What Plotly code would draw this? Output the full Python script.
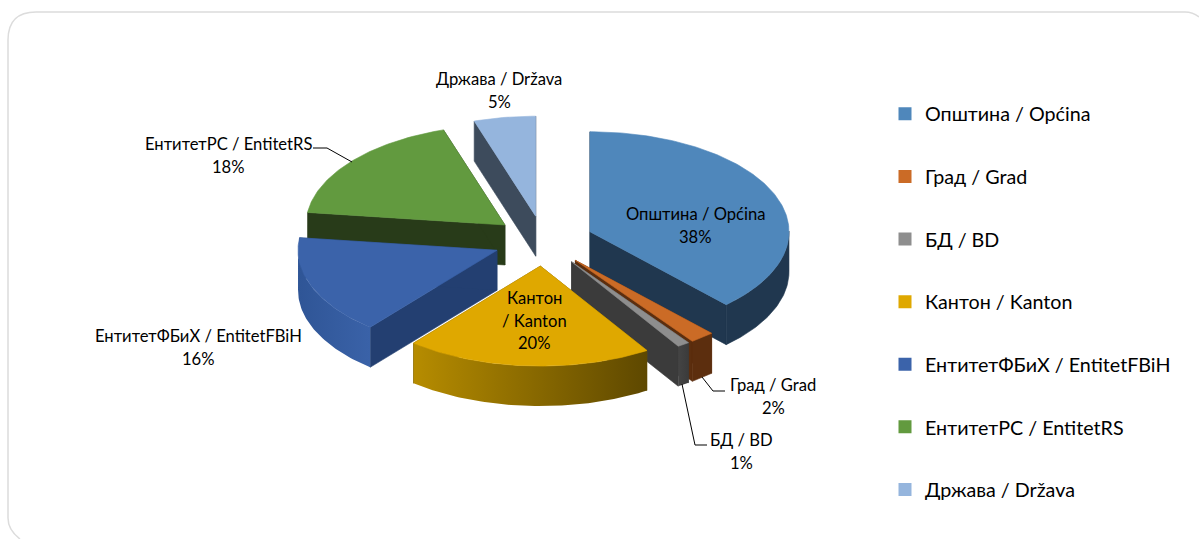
import numpy as np
import plotly.graph_objects as go

# --- data ---
categories = ["Општина / Općina", "Град / Grad", "БД / BD", "Кантон / Kanton",
              "ЕнтитетФБиХ / EntitetFBiH", "ЕнтитетРС / EntitetRS", "Држава / Država"]
values = [38, 2, 1, 20, 16, 18, 5]
top_colors = ["#4f87bb", "#cb6b26", "#8e8e8e", "#dfa800", "#3b63aa", "#629a3f", "#95b5dd"]
edge_colors = ["#20374f", "#5c2e0e", "#3b3b3b", "#6b5200", "#233f71", "#283b19", "#3d4b5c"]
arc_colors = [("#20374f", "#20374f"), ("#5c2e0e", "#5c2e0e"), ("#444444", "#3b3b3b"),
              ("#b68c00", "#5e4800"), ("#2f5596", "#3a62a8"), ("#283b19", "#283b19"), ("#3d4b5c", "#3d4b5c")]
label_lines = [["Општина / Općina"], ["Град / Grad"], ["БД / BD"], ["Кантон", "/ Kanton"],
               ["ЕнтитетФБиХ / EntitetFBiH"], ["ЕнтитетРС / EntitetRS"], ["Држава / Država"]]

# --- layout of the projected pie ---
W, H = 1199, 539
CX, CY = 543.5, 241
RX, RY = 199, 100
EXPLODE = 50
DEPTH = 40
FONT = "Lato, 'Open Sans', sans-serif"
label_xy = [(695, 214), (773, 385), (741, 440), (534, 298), (198, 336), (228, 144), (499, 79)]
LINE_STEP = 22.5
leaders = [([313, 327, 352], [148, 148, 162]),
           ([702, 713, 725], [377, 391, 391]),
           ([682, 695, 707], [384, 445, 445])]
draw_order = [6, 5, 4, 0, 1, 2, 3]

fig = go.Figure()
total = sum(values)
bounds = np.cumsum([0] + values) / total * 2 * np.pi


def poly(x, y, color, gradient=None):
    kw = dict(x=list(x), y=list(y), mode="lines", fill="toself", line=dict(width=0.6, color=color),
              hoverinfo="skip", showlegend=False)
    if gradient:
        kw["fillgradient"] = dict(type="horizontal", colorscale=[[0, gradient[0]], [1, gradient[1]]])
        kw["line"] = dict(width=0)
    else:
        kw["fillcolor"] = color
    fig.add_trace(go.Scatter(**kw))


for i in draw_order:
    a0, a1 = bounds[i], bounds[i + 1]
    mid = (a0 + a1) / 2
    ax = CX + EXPLODE * np.sin(mid)
    ay = CY - EXPLODE * np.cos(mid) * RY / RX
    t = np.linspace(a0, a1, max(12, int((a1 - a0) * 60)))
    rx = ax + RX * np.sin(t)
    ry = ay - RY * np.cos(t)
    # radial faces
    for a in (a0, a1):
        ex, ey = ax + RX * np.sin(a), ay - RY * np.cos(a)
        poly([ax, ex, ex, ax, ax], [ay, ey, ey + DEPTH, ay + DEPTH, ay], edge_colors[i])
    # outer wall, only the part facing the viewer
    front = (np.cos(t) <= 0.02)
    if front.sum() > 1:
        fx, fy = rx[front], ry[front]
        c0, c1 = arc_colors[i]
        poly(np.r_[fx, fx[::-1], fx[0]], np.r_[fy, fy[::-1] + DEPTH, fy[0]], c0,
             gradient=(c0, c1) if c0 != c1 else None)
    # top
    poly(np.r_[ax, rx, ax], np.r_[ay, ry, ay], top_colors[i])

# leader lines
for lx, ly in leaders:
    fig.add_trace(go.Scatter(x=lx, y=ly, mode="lines", line=dict(color="#000000", width=1),
                             hoverinfo="skip", showlegend=False))

# labels
for lines, v, (lx, ly) in zip(label_lines, values, label_xy):
    for k, txt in enumerate(lines + [f"{v}%"]):
        fig.add_annotation(x=lx, y=ly + k * LINE_STEP, text=txt, showarrow=False,
                           font=dict(family=FONT, size=16.6, color="#000000"),
                           xanchor="center", yanchor="middle")

# legend entries
for c, col in zip(categories, top_colors):
    fig.add_trace(go.Scatter(x=[None], y=[None], mode="markers", name=c, legendgroup=c,
                             marker=dict(symbol="square", size=13, color=col)))

fig.update_layout(
    width=W, height=H, margin=dict(l=0, r=0, t=0, b=0), paper_bgcolor="white", plot_bgcolor="white",
    xaxis=dict(range=[0, W], visible=False, fixedrange=True),
    yaxis=dict(range=[H, 0], visible=False, fixedrange=True),
    legend=dict(x=885 / W, y=1 - 302 / H, xanchor="left", yanchor="middle", tracegroupgap=34,
                font=dict(family=FONT, size=19.7, color="#000000"), bgcolor="rgba(0,0,0,0)",
                itemclick=False, itemdoubleclick=False),
    shapes=[dict(type="path", xref="x", yref="y", layer="below",
                 path="M 20,539 Q 8,530 8,518 L 8,40 Q 8,12 36,12 L 1185,12 Q 1193,12 1199,17",
                 line=dict(color="#dcdcdc", width=1.5))],
)
fig.write_html("out.html", config={"displayModeBar": False},
               post_script="document.body.style.margin='0';document.body.style.overflow='hidden';")
